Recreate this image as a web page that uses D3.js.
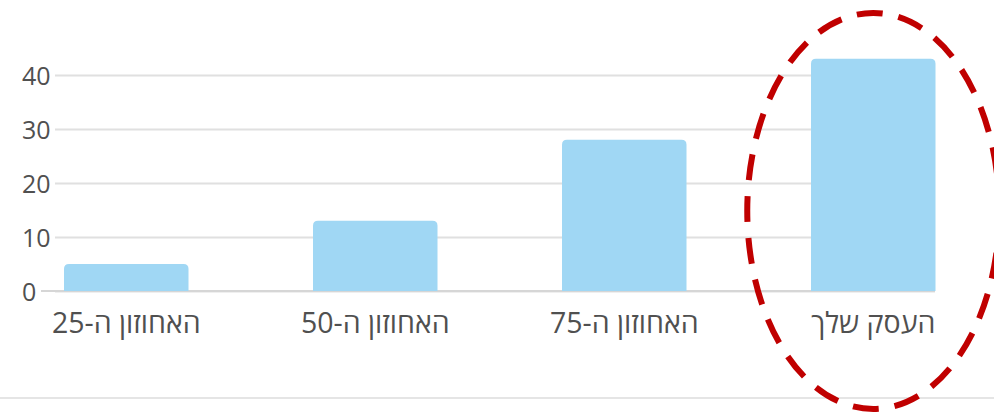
<!DOCTYPE html>
<html><head><meta charset="utf-8">
<script src="https://cdn.jsdelivr.net/npm/d3@7"></script>
<style>
html,body{margin:0;padding:0;background:#fff;}
svg{display:block;font-family:"Open Sans","Noto Sans",sans-serif;}
</style></head>
<body>
<svg id="c" width="994" height="412"></svg>
<script>
const categories = ["האחוזון ה-25", "האחוזון ה-50", "האחוזון ה-75", "העסק שלך"];
const values = [5, 13, 28, 43];
const yTicks = [0, 10, 20, 30, 40];

const svg = d3.select("#c");
const W = 994, H = 412;
const x = d3.scaleBand().domain(categories).range([1.75, 997.75]).paddingInner(0.5).paddingOuter(0.25);
const y = d3.scaleLinear().domain([0, 40]).range([291, 75]);
const gridLeft = 55, gridRight = 935;

// gridlines + tick labels via axis
const ax = svg.append("g").attr("transform", `translate(${gridLeft},0)`)
  .call(d3.axisLeft(y).tickValues(yTicks).tickSize(-(gridRight - gridLeft)).tickFormat(d3.format("d")));
ax.select(".domain").remove();
ax.selectAll(".tick line").attr("stroke", "#e0e0e0").attr("stroke-width", 2);
ax.selectAll(".tick text").attr("x", 22 - gridLeft).attr("text-anchor", "start")
  .attr("fill", "#505050").attr("font-size", 25).attr("dy", "0.36em")
  .attr("font-family", "'Open Sans','Noto Sans',sans-serif");

// baseline (zero line) extends further left
svg.append("line").attr("x1", 41).attr("x2", gridRight).attr("y1", y(0)).attr("y2", y(0))
  .attr("stroke", "#d6d6d6").attr("stroke-width", 2);

// bars with rounded top corners
const r = 5;
svg.append("g").selectAll("path").data(values).join("path")
  .attr("fill", "#a0d7f4")
  .attr("d", (d, i) => {
    const x0 = x(categories[i]), w = x.bandwidth(), y0 = y(d), yb = y(0);
    return `M${x0},${yb}V${y0 + r}Q${x0},${y0} ${x0 + r},${y0}H${x0 + w - r}Q${x0 + w},${y0} ${x0 + w},${y0 + r}V${yb}Z`;
  });

// category labels via bottom axis
const bx = svg.append("g").attr("transform", `translate(0,${y(0)})`)
  .call(d3.axisBottom(x).tickSize(0).tickPadding(0));
bx.select(".domain").remove();
bx.selectAll(".tick text").attr("y", 32).attr("dy", "0.36em")
  .attr("fill", "#505050").attr("font-size", 28.5).attr("direction", "rtl")
  .attr("font-family", "'Open Sans','Noto Sans',sans-serif");

// bottom separator line
svg.append("line").attr("x1", 0).attr("x2", W).attr("y1", 398).attr("y2", 398)
  .attr("stroke", "#dcdcdc").attr("stroke-width", 1.5);

// red dashed ellipse highlight around the last bar
const last = categories[categories.length - 1];
svg.append("ellipse")
  .attr("cx", x(last) + x.bandwidth() / 2)
  .attr("cy", 211).attr("rx", 126).attr("ry", 198)
  .attr("fill", "none").attr("stroke", "#c00000").attr("stroke-width", 6)
  .attr("stroke-dasharray", "26,16");
</script>
</body></html>
